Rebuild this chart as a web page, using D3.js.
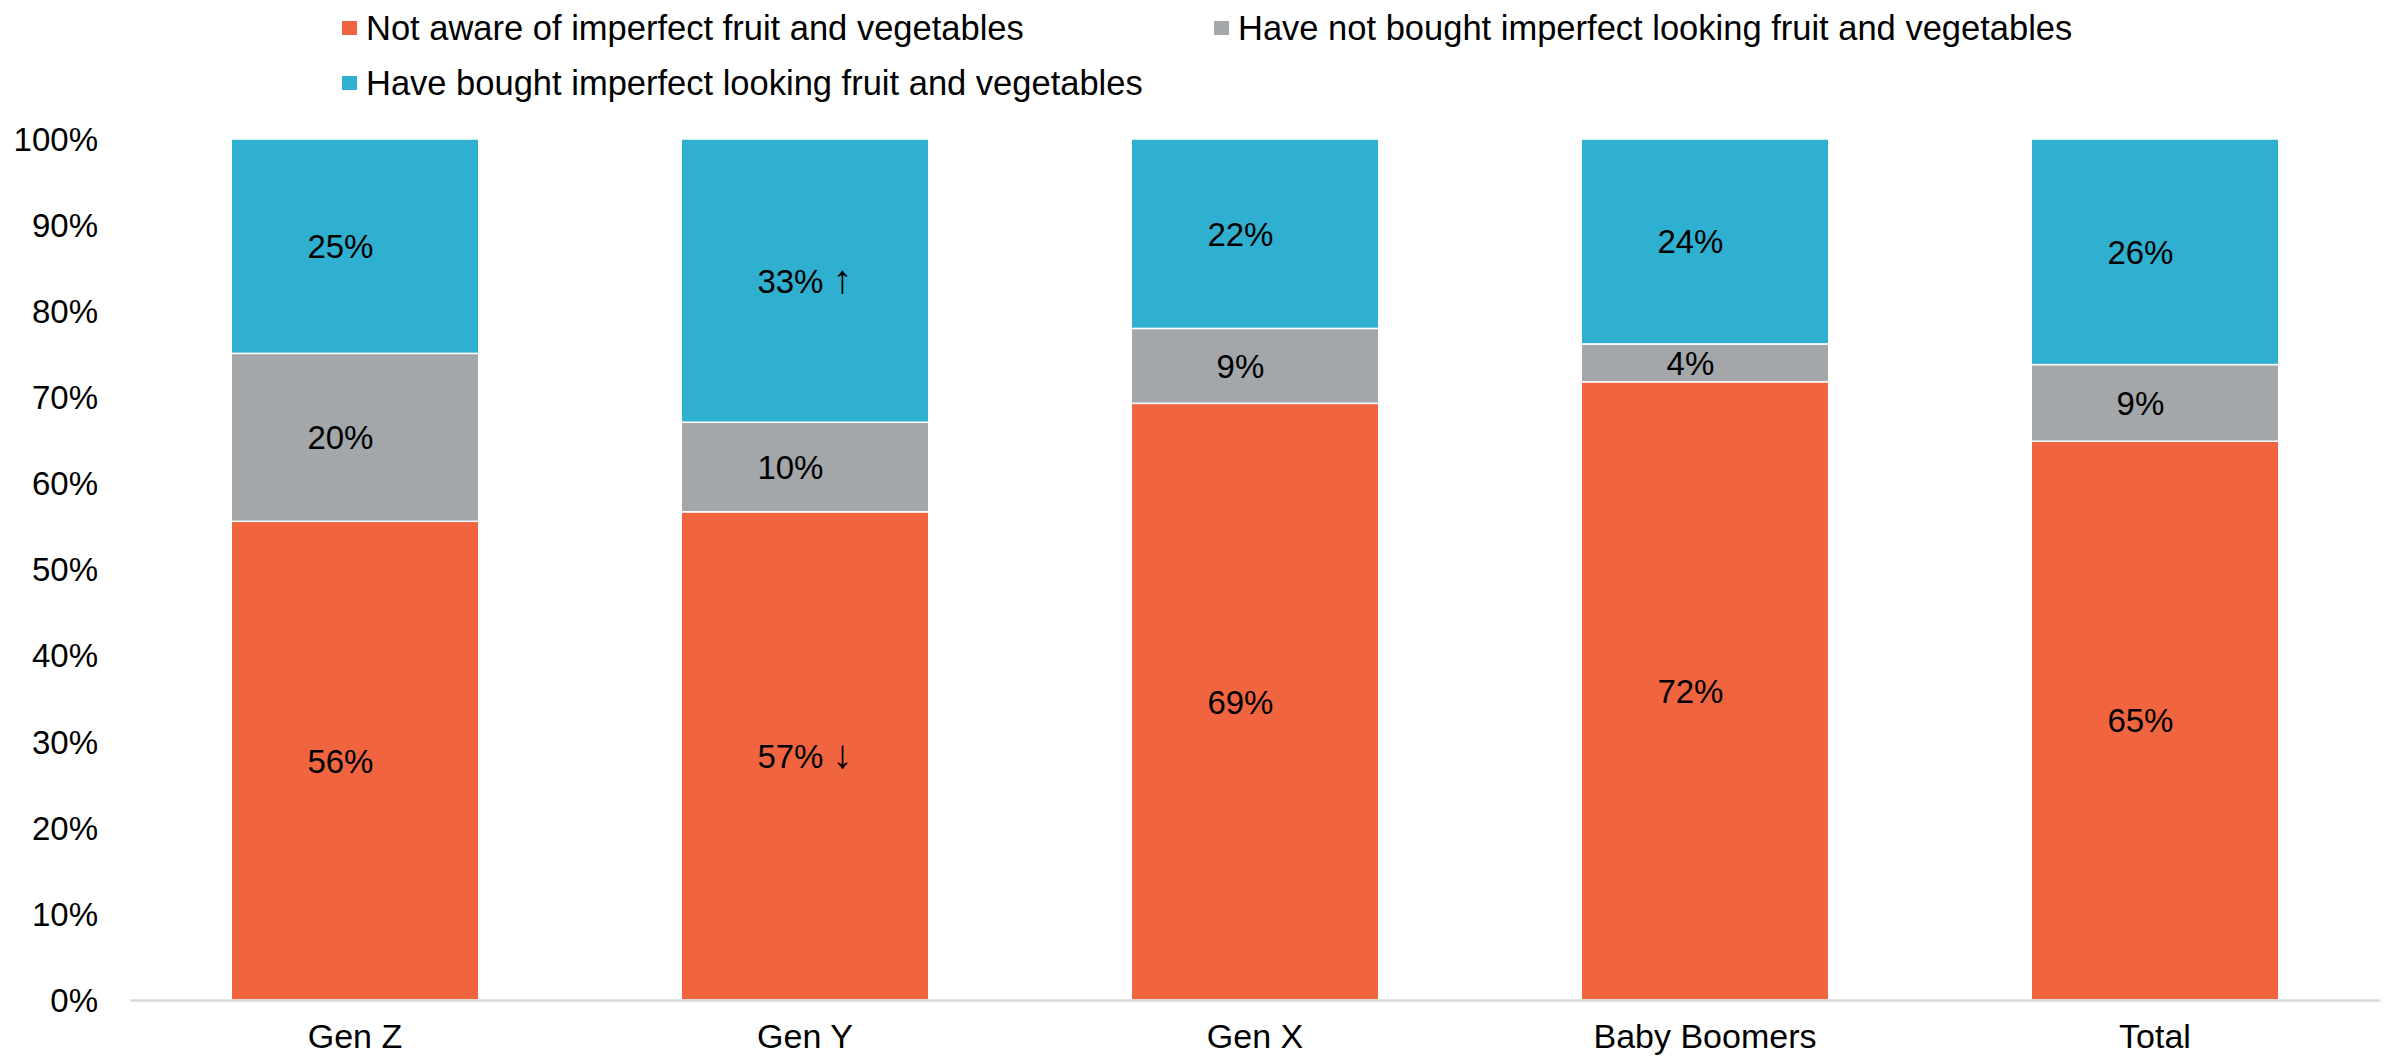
<!DOCTYPE html>
<html>
<head>
<meta charset="utf-8">
<style>
    body { margin: 0; background: #ffffff; }
    svg text { font-family: "Liberation Sans", Arial, Helvetica, sans-serif; fill: #000000; }
    .tick_lbl { font-size: 33px; }
    .cat_lbl { font-size: 34px; }
    .legend_lbl { font-size: 34.5px; }
    .val_lbl { font-size: 33px; }
    .arrow_lbl { font-size: 40px; }
</style>
</head>
<body>
<svg width="2394" height="1060" id="chart"></svg>

<script charset="utf-8" src="https://cdn.jsdelivr.net/npm/d3@7"></script>
<script charset="utf-8">

// chart data
var categories = ["Gen Z", "Gen Y", "Gen X", "Baby Boomers", "Total"];
var notAware   = [55.6, 56.7, 69.3, 71.8, 64.9];
var notBought  = [19.5, 10.4,  8.7,  4.4,  8.9];
var bought     = [24.9, 32.9, 22.0, 23.8, 26.2];
// significance arrows shown next to a value ("" = none)
var arrowsNotAware = ["", "\u2193", "", "", ""];
var arrowsBought   = ["", "\u2191", "", "", ""];
var yTicks = [0, 10, 20, 30, 40, 50, 60, 70, 80, 90, 100];

var seriesNames = [
    "Not aware of imperfect fruit and vegetables",
    "Have not bought imperfect looking fruit and vegetables",
    "Have bought imperfect looking fruit and vegetables"
];
var seriesColors = ["#f06540", "#a3a7aa", "#30b0d0"];
var noArrows = ["", "", "", "", ""];

var svg = d3.select("#chart"),
    width = +svg.attr("width"),
    height = +svg.attr("height");

var margin = {left: 130, right: 14, top: 139, bottom: 60};

var x = d3.scaleBand()
    .domain(categories)
    .range([margin.left, width - margin.right])
    .paddingInner(0.45)
    .paddingOuter(0.225);

var y = d3.scaleLinear()
    .domain([0, 100])
    .range([height - margin.bottom, margin.top]);

// build a table for d3.stack
var table = categories.map(function(c, i) {
    return {cat: c, s0: notAware[i], s1: notBought[i], s2: bought[i]};
});
var keys = ["s0", "s1", "s2"];
var arrows = [arrowsNotAware, noArrows, arrowsBought];
var stacked = d3.stack().keys(keys)(table);

// bars
var layers = svg.append("g")
    .selectAll("g")
    .data(stacked)
    .enter().append("g")
    .attr("fill", function(d, i) { return seriesColors[i]; });

layers.selectAll("rect")
    .data(function(d) { return d; })
    .enter().append("rect")
    .attr("x", function(d) { return x(d.data.cat); })
    .attr("width", x.bandwidth())
    .attr("y", function(d) { return y(d[1]); })
    .attr("height", function(d) { return y(d[0]) - y(d[1]); })
    .attr("stroke", "#ffffff")
    .attr("stroke-width", 1.5);

// value labels (a hidden arrow keeps the same centring as in the source)
stacked.forEach(function(layer, li) {
    var g = svg.append("g");
    layer.forEach(function(d, ci) {
        var arrow = arrows[li][ci];
        var t = g.append("text")
            .attr("class", "val_lbl")
            .attr("x", x(d.data.cat) + x.bandwidth() / 2)
            .attr("y", (y(d[0]) + y(d[1])) / 2)
            .attr("dy", "0.36em")
            .attr("text-anchor", "middle");
        t.append("tspan").text(Math.round(d.data[layer.key]) + "%");
        t.append("tspan").text(" ");
        t.append("tspan")
            .attr("class", "arrow_lbl")
            .attr("fill-opacity", arrow ? 1 : 0)
            .text(arrow || "\u2191");
    });
});

// y axis labels (no axis line in the source)
svg.append("g")
    .selectAll("text")
    .data(yTicks)
    .enter().append("text")
    .attr("class", "tick_lbl")
    .attr("x", 98)
    .attr("y", function(d) { return y(d); })
    .attr("dy", "0.36em")
    .attr("text-anchor", "end")
    .text(function(d) { return d + "%"; });

// x axis
var xAxis = svg.append("g")
    .attr("transform", "translate(0," + y(0) + ")")
    .call(d3.axisBottom(x).tickSize(0).tickPadding(24).tickSizeOuter(0));
xAxis.select(".domain")
    .attr("stroke", "#d9d9d9")
    .attr("stroke-width", 2.5);
xAxis.selectAll("text")
    .attr("class", "cat_lbl")
    .attr("fill", "#000000")
    .attr("dy", "0.71em");
xAxis.attr("font-size", null).attr("font-family", null);

// legend
var legendPos = [[342, 28], [1214, 28], [342, 83]];
var legend = svg.append("g")
    .selectAll("g")
    .data(seriesNames)
    .enter().append("g")
    .attr("transform", function(d, i) { return "translate(" + legendPos[i][0] + "," + legendPos[i][1] + ")"; });

legend.append("rect")
    .attr("x", 0)
    .attr("y", -7)
    .attr("width", 15)
    .attr("height", 14)
    .attr("fill", function(d, i) { return seriesColors[i]; });

legend.append("text")
    .attr("class", "legend_lbl")
    .attr("x", 24)
    .attr("y", 0)
    .attr("dy", "0.36em")
    .text(function(d) { return d; });

</script>
</body>
</html>
